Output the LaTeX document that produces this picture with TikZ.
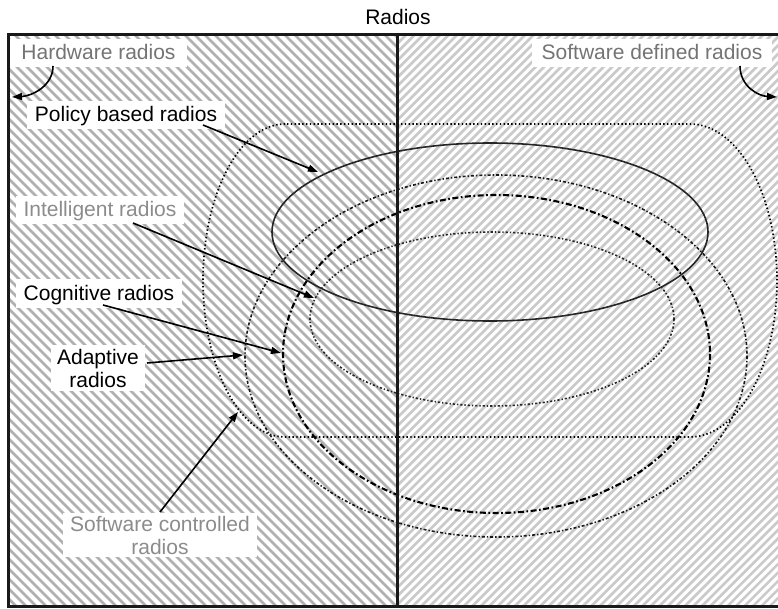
\documentclass[tikz,border=0pt]{standalone}
\usepackage{fontspec}
\setmainfont{Liberation Sans}
\usetikzlibrary{arrows.meta}
\definecolor{hatchL}{HTML}{B0B0B0}
\definecolor{hatchR}{HTML}{CACACA}
\definecolor{labgray}{HTML}{8C8C8C}
\definecolor{hwgray}{HTML}{747474}
\begin{document}
\begin{tikzpicture}[x=1pt,y=-1pt,
  lab/.style={font=\fontsize{21}{23}\selectfont, fill=white, inner xsep=8pt, inner ysep=2.5pt, text height=18pt, text depth=5pt, anchor=base},
  lab2/.style={font=\fontsize{21}{23}\selectfont, fill=white, inner xsep=6pt, inner ysep=3pt, align=center, anchor=center},
  arr/.style={line width=1.6pt, draw=black, -{Triangle[length=10pt,width=7pt]}},
  solidell/.style={line width=1.6pt, draw=black!85},
  outerdot/.style={line width=1.7pt, draw=black, dash pattern=on 1.4pt off 2.4pt},
  adapt/.style={line width=1.6pt, draw=black!90, dash pattern=on 3pt off 2pt on 1.4pt off 2pt},
  cogn/.style={line width=2.1pt, draw=black, dash pattern=on 6pt off 2.5pt on 1.7pt off 2.5pt},
  intel/.style={line width=1.6pt, draw=black!85, dash pattern=on 2.2pt off 2pt on 1.3pt off 2pt},
  frameline/.style={line width=3pt, draw=black!90}
]
\clip (0,0) rectangle (778,609);
\fill[white] (0,0) rectangle (778,609);
% hatching, left half
\begin{scope}
  \clip (8.5,34.5) rectangle (397.5,606);
  \foreach \i in {0,...,104} \draw[hatchL, line width=2.8pt] ({-620+\i*10},20) -- ++(640,640);
\end{scope}
% hatching, right half
\begin{scope}
  \clip (397.5,34.5) rectangle (790,606);
  \foreach \i in {0,...,125} \draw[hatchR, line width=2.5pt] ({-250+\i*8.5},640) -- ++(640,-640);
\end{scope}
% title
\node[font=\fontsize{21}{23}\selectfont, anchor=base] (title) at (398,25) {Radios};
% software controlled radios region
\draw[outerdot] (287,124) -- (690,124)
  -- plot[domain=-90:90, samples=61] ({690+87*cos(\x)},{280.5+156.5*sin(\x)})
  -- (285,437)
  -- plot[domain=90:270, samples=61] ({285+82*cos(\x)},{280.5+156.5*sin(\x)}) -- cycle;
% adaptive
\draw[adapt] (496,356) ellipse [x radius=251, y radius=181];
% cognitive
\draw[cogn] (496.5,354) ellipse [x radius=213.5, y radius=159];
% intelligent
\draw[intel] (492,319) ellipse [x radius=182, y radius=87];
% policy based
\draw[solidell] (490,232) ellipse [x radius=218, y radius=89];
% frame and divider
\draw[frameline] (8.5,34.5) rectangle (790,606);
\draw[frameline] (397.5,34.5) -- (397.5,606);
% labels
\node[lab, text=hwgray, inner xsep=11pt] (hw) at (98.5,60) {Hardware radios};
\node[lab, text=hwgray, inner xsep=10pt] (sd) at (652,60) {Software defined radios};
\node[lab] (pol) at (126,122) {Policy based radios};
\node[lab, text=labgray] (intl) at (100,217) {Intelligent radios};
\node[lab] (cog) at (99,300) {Cognitive radios};
\node[lab2, inner xsep=6pt, inner ysep=4pt] (ada) at (98,368) {Adaptive\\radios};
\node[lab2, text=labgray, inner xsep=7.5pt] (sc) at (160,535) {Software controlled\\radios};
% arrow end points
\coordinate (hwA) at (53,66);   \coordinate (hwB) at (12,97);
\coordinate (sdA) at (740,66);  \coordinate (sdB) at (777,97);
\coordinate (polA) at (203,125); \coordinate (polB) at (318,172);
\coordinate (intA) at (133,223); \coordinate (intB) at (314,298);
\coordinate (cogA) at (103,305); \coordinate (cogB) at (281,353);
\coordinate (adaA) at (147,363); \coordinate (adaB) at (243,355);
\coordinate (scA) at (160,512);  \coordinate (scB) at (238,412);
% arrows
\draw[arr] (hwA) .. controls (53,86) and (32,96) .. (hwB);
\draw[arr] (sdA) .. controls (740,86) and (758,96) .. (sdB);
\draw[arr] (polA) -- (polB);
\draw[arr] (intA) -- (intB);
\draw[arr] (cogA) -- (cogB);
\draw[arr] (adaA) -- (adaB);
\draw[arr] (scA) -- (scB);
\end{tikzpicture}
\end{document}
